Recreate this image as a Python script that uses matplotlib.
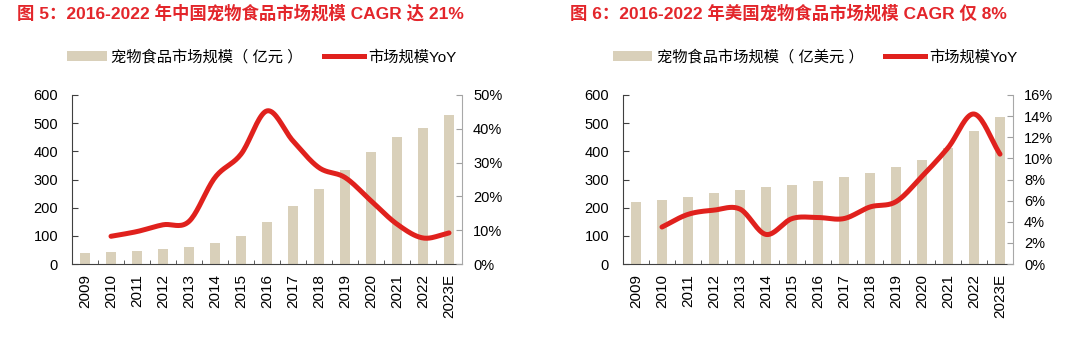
import numpy as np
import matplotlib
matplotlib.use("Agg")
import matplotlib.pyplot as plt
from matplotlib.patches import Patch
from matplotlib.lines import Line2D
from matplotlib.ticker import FuncFormatter

plt.rcParams['font.family'] = ['Liberation Sans', 'Noto Sans CJK SC', 'DejaVu Sans']

years = ['2009', '2010', '2011', '2012', '2013', '2014', '2015', '2016',
         '2017', '2018', '2019', '2020', '2021', '2022', '2023E']

# China pet food market (100M CNY) and YoY (%)
cn_size = [40, 43, 47, 52, 60, 76, 100, 149, 205, 266, 333, 399, 450, 484, 530]
cn_yoy = [None, 8.2, 9.6, 11.6, 12.6, 25.6, 32.5, 45.3, 36.4, 28.5, 25.6, 18.7, 11.8, 7.7, 9.2]

# US pet food market (100M USD) and YoY (%)
us_size = [220, 228, 239, 252, 263, 272, 282, 295, 308, 324, 344, 371, 413, 471, 521]
us_yoy = [None, 3.5, 4.7, 5.1, 5.2, 2.8, 4.3, 4.4, 4.3, 5.4, 5.9, 8.3, 11.0, 14.2, 10.4]

titles = ['图 5：2016-2022 年中国宠物食品市场规模 CAGR 达 21%',
          '图 6：2016-2022 年美国宠物食品市场规模 CAGR 仅 8%']
bar_labels = ['宠物食品市场规模（ 亿元 ）', '宠物食品市场规模（ 亿美元 ）']
line_label = '市场规模YoY'

BAR_C = '#d9d0ba'
LINE_C = '#e0211d'
TITLE_C = '#e3262b'


def smooth(xs, ys, n=20):
    """Catmull-Rom spline through the given points (Excel-like smoothed line)."""
    xs = np.asarray(xs, float)
    ys = np.asarray(ys, float)
    px = np.concatenate([[2 * xs[0] - xs[1]], xs, [2 * xs[-1] - xs[-2]]])
    py = np.concatenate([[2 * ys[0] - ys[1]], ys, [2 * ys[-1] - ys[-2]]])
    ox, oy = [], []
    for i in range(1, len(px) - 2):
        t = np.linspace(0, 1, n, endpoint=False)
        for p, out in ((px, ox), (py, oy)):
            p0, p1, p2, p3 = p[i - 1], p[i], p[i + 1], p[i + 2]
            out.extend(0.5 * ((2 * p1) + (-p0 + p2) * t +
                              (2 * p0 - 5 * p1 + 4 * p2 - p3) * t ** 2 +
                              (-p0 + 3 * p1 - 3 * p2 + p3) * t ** 3))
    ox.append(xs[-1])
    oy.append(ys[-1])
    return np.array(ox), np.array(oy)


fig = plt.figure(figsize=(10.8, 3.52), dpi=100)

W, H = 1080, 352
panels = [
    dict(x0=72, x1=462, size=cn_size, yoy=cn_yoy, rmax=50, rstep=10,
         title=titles[0], tx=17, blabel=bar_labels[0], lx=262),
    dict(x0=623, x1=1013, size=us_size, yoy=us_yoy, rmax=16, rstep=2,
         title=titles[1], tx=570, blabel=bar_labels[1], lx=815),
]
top_px, bot_px = 95, 264

for p in panels:
    ax = fig.add_axes([p['x0'] / W, 1 - bot_px / H, (p['x1'] - p['x0']) / W,
                       (bot_px - top_px) / H])
    x = np.arange(len(years))
    ax.bar(x, p['size'], width=0.4, color=BAR_C, zorder=1)
    ax.set_xlim(-0.5, len(years) - 0.5)
    ax.set_ylim(0, 600)
    ax.set_yticks(range(0, 601, 100))
    ax.set_xticks(x)
    ax.set_xticklabels(years, rotation=90, fontsize=11)
    ax.tick_params(axis='x', length=0, pad=7)
    ax.set_xticks(np.arange(-0.5, len(years), 1), minor=True)
    ax.tick_params(axis='x', which='minor', direction='in', length=3,
                   color='#404040')
    ax.tick_params(axis='y', direction='in', length=4, labelsize=10.5,
                   color='#404040', pad=10)
    for s in ['top', 'right']:
        ax.spines[s].set_visible(False)
    for s in ['left', 'bottom']:
        ax.spines[s].set_color('#404040')

    ax2 = ax.twinx()
    xi = [i for i, v in enumerate(p['yoy']) if v is not None]
    yi = [p['yoy'][i] for i in xi]
    sx, sy = smooth(xi, yi)
    ax2.plot(sx, sy, color=LINE_C, lw=3.6, solid_capstyle='round', zorder=3)
    ax2.set_ylim(0, p['rmax'])
    ax2.set_yticks(np.arange(0, p['rmax'] + 0.1, p['rstep']))
    ax2.yaxis.set_major_formatter(FuncFormatter(lambda v, _: f'{v:.0f}%'))
    ax2.tick_params(axis='y', direction='in', length=4, labelsize=10.5,
                    color='#a0a0a0', pad=8)
    for s in ['top', 'left', 'bottom']:
        ax2.spines[s].set_visible(False)
    ax2.spines['right'].set_color('#a8a8a8')

    fig.text(p['tx'] / W, 1 - 13 / H, p['title'], color=TITLE_C,
             fontsize=12.5, fontweight='bold', va='center', ha='left')

    handles = [Patch(facecolor=BAR_C, edgecolor='none'),
               Line2D([0], [0], color=LINE_C, lw=3.6)]
    fig.legend(handles, [p['blabel'], line_label], loc='center',
               bbox_to_anchor=(p['lx'] / W, 1 - 57 / H), ncol=2,
               frameon=False, fontsize=11, handlelength=2.6,
               handleheight=0.55, handletextpad=0.3, columnspacing=1.4)

fig.savefig('out.png', dpi=100, facecolor='white')
